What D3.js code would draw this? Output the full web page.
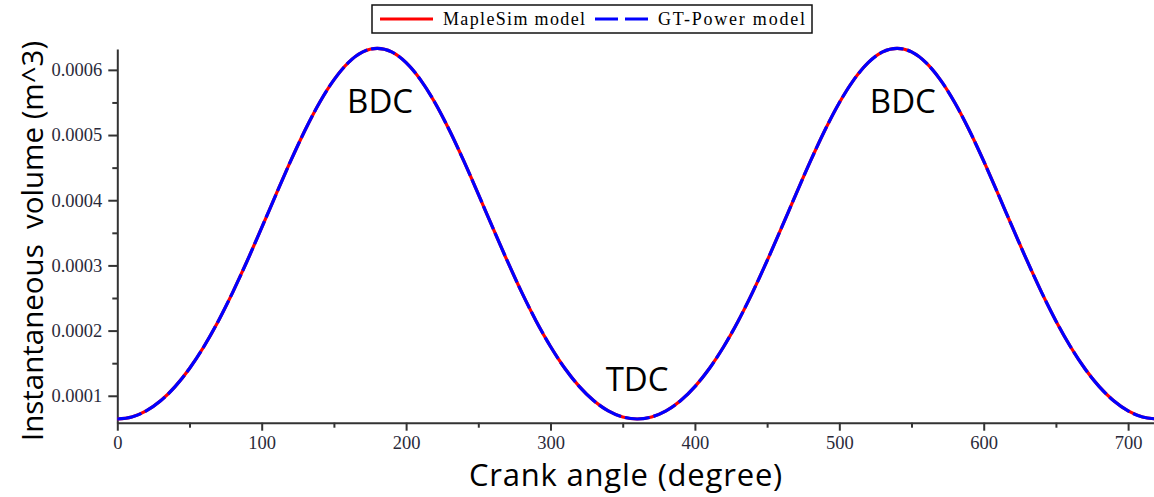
<!DOCTYPE html>
<html>
<head>
<meta charset="utf-8">
<script src="https://cdn.jsdelivr.net/npm/d3@7"></script>
<style>
  body { margin: 0; background: #fff; }
  .tick text { font-family: "Liberation Serif", serif; }
</style>
</head>
<body>
<script>
// crank angle (degree) and cylinder volume (m^3)
var angles = [0, 10, 20, 30, 40, 50, 60, 70, 80, 90, 100, 110, 120, 130, 140, 150, 160, 170, 180,
  190, 200, 210, 220, 230, 240, 250, 260, 270, 280, 290, 300, 310, 320, 330, 340, 350, 360,
  370, 380, 390, 400, 410, 420, 430, 440, 450, 460, 470, 480, 490, 500, 510, 520, 530, 540,
  550, 560, 570, 580, 590, 600, 610, 620, 630, 640, 650, 660, 670, 680, 690, 700, 710, 720];

var mapleSim = [6.44e-5, 6.75e-5, 7.68e-5, 9.23e-5, 1.140e-4, 1.418e-4, 1.756e-4, 2.149e-4, 2.591e-4, 3.072e-4,
  3.579e-4, 4.094e-4, 4.599e-4, 5.073e-4, 5.496e-4, 5.847e-4, 6.111e-4, 6.275e-4, 6.330e-4,
  6.275e-4, 6.111e-4, 5.847e-4, 5.496e-4, 5.073e-4, 4.599e-4, 4.094e-4, 3.579e-4, 3.072e-4,
  2.591e-4, 2.149e-4, 1.756e-4, 1.418e-4, 1.140e-4, 9.23e-5, 7.68e-5, 6.75e-5, 6.44e-5,
  6.75e-5, 7.68e-5, 9.23e-5, 1.140e-4, 1.418e-4, 1.756e-4, 2.149e-4, 2.591e-4, 3.072e-4,
  3.579e-4, 4.094e-4, 4.599e-4, 5.073e-4, 5.496e-4, 5.847e-4, 6.111e-4, 6.275e-4, 6.330e-4,
  6.275e-4, 6.111e-4, 5.847e-4, 5.496e-4, 5.073e-4, 4.599e-4, 4.094e-4, 3.579e-4, 3.072e-4,
  2.591e-4, 2.149e-4, 1.756e-4, 1.418e-4, 1.140e-4, 9.23e-5, 7.68e-5, 6.75e-5, 6.44e-5];

var gtPower = [6.44e-5, 6.75e-5, 7.68e-5, 9.23e-5, 1.140e-4, 1.418e-4, 1.756e-4, 2.149e-4, 2.591e-4, 3.072e-4,
  3.579e-4, 4.094e-4, 4.599e-4, 5.073e-4, 5.496e-4, 5.847e-4, 6.111e-4, 6.275e-4, 6.330e-4,
  6.275e-4, 6.111e-4, 5.847e-4, 5.496e-4, 5.073e-4, 4.599e-4, 4.094e-4, 3.579e-4, 3.072e-4,
  2.591e-4, 2.149e-4, 1.756e-4, 1.418e-4, 1.140e-4, 9.23e-5, 7.68e-5, 6.75e-5, 6.44e-5,
  6.75e-5, 7.68e-5, 9.23e-5, 1.140e-4, 1.418e-4, 1.756e-4, 2.149e-4, 2.591e-4, 3.072e-4,
  3.579e-4, 4.094e-4, 4.599e-4, 5.073e-4, 5.496e-4, 5.847e-4, 6.111e-4, 6.275e-4, 6.330e-4,
  6.275e-4, 6.111e-4, 5.847e-4, 5.496e-4, 5.073e-4, 4.599e-4, 4.094e-4, 3.579e-4, 3.072e-4,
  2.591e-4, 2.149e-4, 1.756e-4, 1.418e-4, 1.140e-4, 9.23e-5, 7.68e-5, 6.75e-5, 6.44e-5];

var xTicks = [0, 100, 200, 300, 400, 500, 600, 700];
var xMinor = [50, 150, 250, 350, 450, 550, 650];
var yTicks = [0.0001, 0.0002, 0.0003, 0.0004, 0.0005, 0.0006];
var yMinor = [0.00015, 0.00025, 0.00035, 0.00045, 0.00055];

var seriesNames = ["MapleSim model", "GT-Power model"];
var notes = [
  {text: "BDC", x: 182, y: 0.000534},
  {text: "TDC", x: 360, y: 0.000108},
  {text: "BDC", x: 544, y: 0.000534}
];

var width = 1154, height = 497;

var x = d3.scaleLinear().domain([0, 720]).range([117.3, 1157]);
var y = d3.scaleLinear().domain([0.0000587, 0.000632]).range([422.7, 49]);

var svg = d3.select("body").append("svg")
    .attr("width", width)
    .attr("height", height);

// minor ticks
svg.append("g")
    .attr("transform", "translate(0,422.7)")
    .call(d3.axisBottom(x).tickValues(xMinor).tickSize(5).tickFormat(""))
    .call(function(g) { g.select(".domain").remove(); });
svg.append("g")
    .attr("transform", "translate(117.3,0)")
    .call(d3.axisLeft(y).tickValues(yMinor).tickSize(5).tickFormat(""))
    .call(function(g) { g.select(".domain").remove(); });

var xAxis = svg.append("g")
    .attr("transform", "translate(0,422.7)")
    .call(d3.axisBottom(x).tickValues(xTicks).tickSize(8).tickSizeOuter(0).tickPadding(5));
var yAxis = svg.append("g")
    .attr("transform", "translate(117.3,0)")
    .call(d3.axisLeft(y).tickValues(yTicks).tickSize(9).tickSizeOuter(0).tickPadding(6).tickFormat(d3.format(".4f")));

svg.selectAll(".tick line, .domain")
    .attr("stroke", "#333")
    .attr("stroke-width", 2);
svg.selectAll(".tick text")
    .attr("fill", "#2a2a3a")
    .style("font-size", "18.5px");

// curves: red solid underneath, blue dashed on top
var line = d3.line()
    .x(function(d) { return x(d[0]); })
    .y(function(d) { return y(d[1]); })
    .curve(d3.curveMonotoneX);

svg.append("path")
    .datum(d3.zip(angles, mapleSim))
    .attr("fill", "none")
    .attr("stroke", "#ff0000")
    .attr("stroke-width", 3.2)
    .attr("d", line);

svg.append("path")
    .datum(d3.zip(angles, gtPower))
    .attr("fill", "none")
    .attr("stroke", "#0000ff")
    .attr("stroke-width", 3.2)
    .attr("stroke-dasharray", "25,4")
    .attr("d", line);

// annotations
svg.selectAll(".note")
    .data(notes)
  .enter().append("text")
    .attr("class", "note")
    .attr("x", function(d) { return x(d.x); })
    .attr("y", function(d) { return y(d.y); })
    .attr("text-anchor", "middle")
    .style("font-family", "'Open Sans', sans-serif")
    .style("font-size", "33px")
    .text(function(d) { return d.text; });

// axis titles
svg.append("text")
    .attr("x", 626)
    .attr("y", 486)
    .attr("text-anchor", "middle")
    .style("font-family", "'Open Sans', sans-serif")
    .style("font-size", "31px")
    .style("letter-spacing", "0.8px")
    .text("Crank angle (degree)");

svg.append("text")
    .attr("transform", "translate(43,241) rotate(-90)")
    .attr("text-anchor", "middle")
    .style("font-family", "'Open Sans', sans-serif")
    .style("font-size", "29.5px")
    .style("white-space", "pre")
    .text("Instantaneous\u00a0 volume (m^3)");

// legend
var legend = svg.append("g").attr("transform", "translate(372,5)");
legend.append("rect")
    .attr("width", 440)
    .attr("height", 28)
    .attr("fill", "#fff")
    .attr("stroke", "#111")
    .attr("stroke-width", 1.5);
legend.append("line")
    .attr("x1", 8).attr("x2", 61).attr("y1", 14).attr("y2", 14)
    .attr("stroke", "#ff0000").attr("stroke-width", 3);
legend.append("text")
    .attr("x", 71).attr("y", 20)
    .attr("textLength", 142)
    .style("font-family", "'Liberation Serif', serif")
    .style("font-size", "18px")
    .text(seriesNames[0]);
legend.append("line")
    .attr("x1", 223).attr("x2", 276).attr("y1", 14).attr("y2", 14)
    .attr("stroke", "#0000ff").attr("stroke-width", 3)
    .attr("stroke-dasharray", "23,7");
legend.append("text")
    .attr("x", 286).attr("y", 20)
    .attr("textLength", 147)
    .style("font-family", "'Liberation Serif', serif")
    .style("font-size", "18px")
    .text(seriesNames[1]);
</script>
</body>
</html>
